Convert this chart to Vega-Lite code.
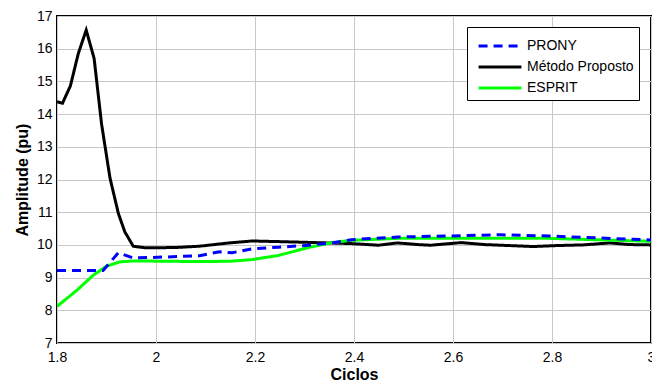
{
  "$schema": "https://vega.github.io/schema/vega-lite/v6.json",
  "width": 594,
  "height": 327,
  "autosize": {"type": "none"},
  "padding": {"left": 57, "top": 16, "right": 1, "bottom": 40},
  "background": "white",
  "config": {
    "font": "Liberation Sans",
    "view": {"stroke": "black", "strokeWidth": 2},
    "axis": {
      "labelFont": "Liberation Sans",
      "labelFontSize": 14,
      "labelColor": "black",
      "titleFont": "Liberation Sans",
      "titleFontSize": 16,
      "titleFontWeight": "bold",
      "titleColor": "black",
      "domain": false,
      "tickColor": "black",
      "tickWidth": 1
    }
  },
  "datasets": {
    "main": [
      {"series": "Método Proposto", "x": 1.8, "y": 14.38},
      {"series": "Método Proposto", "x": 1.811, "y": 14.33},
      {"series": "Método Proposto", "x": 1.827, "y": 14.86},
      {"series": "Método Proposto", "x": 1.843, "y": 15.85},
      {"series": "Método Proposto", "x": 1.859, "y": 16.57},
      {"series": "Método Proposto", "x": 1.875, "y": 15.7},
      {"series": "Método Proposto", "x": 1.89, "y": 13.7},
      {"series": "Método Proposto", "x": 1.907, "y": 12.05},
      {"series": "Método Proposto", "x": 1.924, "y": 10.96},
      {"series": "Método Proposto", "x": 1.937, "y": 10.4},
      {"series": "Método Proposto", "x": 1.954, "y": 9.96},
      {"series": "Método Proposto", "x": 1.98, "y": 9.91},
      {"series": "Método Proposto", "x": 2.04, "y": 9.92},
      {"series": "Método Proposto", "x": 2.088, "y": 9.96},
      {"series": "Método Proposto", "x": 2.141, "y": 10.05},
      {"series": "Método Proposto", "x": 2.194, "y": 10.12},
      {"series": "Método Proposto", "x": 2.25, "y": 10.1},
      {"series": "Método Proposto", "x": 2.3, "y": 10.08},
      {"series": "Método Proposto", "x": 2.395, "y": 10.04},
      {"series": "Método Proposto", "x": 2.449, "y": 9.99},
      {"series": "Método Proposto", "x": 2.488, "y": 10.06},
      {"series": "Método Proposto", "x": 2.529, "y": 10.01},
      {"series": "Método Proposto", "x": 2.555, "y": 9.99},
      {"series": "Método Proposto", "x": 2.616, "y": 10.07},
      {"series": "Método Proposto", "x": 2.663, "y": 10.01},
      {"series": "Método Proposto", "x": 2.763, "y": 9.95},
      {"series": "Método Proposto", "x": 2.81, "y": 9.98},
      {"series": "Método Proposto", "x": 2.863, "y": 10.0},
      {"series": "Método Proposto", "x": 2.917, "y": 10.06},
      {"series": "Método Proposto", "x": 2.957, "y": 10.01},
      {"series": "Método Proposto", "x": 3.0, "y": 10.0},
      {"series": "ESPRIT", "x": 1.8, "y": 8.12},
      {"series": "ESPRIT", "x": 1.84, "y": 8.61},
      {"series": "ESPRIT", "x": 1.873, "y": 9.07},
      {"series": "ESPRIT", "x": 1.9, "y": 9.35},
      {"series": "ESPRIT", "x": 1.927, "y": 9.48},
      {"series": "ESPRIT", "x": 1.954, "y": 9.51},
      {"series": "ESPRIT", "x": 2.088, "y": 9.49},
      {"series": "ESPRIT", "x": 2.15, "y": 9.5},
      {"series": "ESPRIT", "x": 2.194, "y": 9.55},
      {"series": "ESPRIT", "x": 2.248, "y": 9.68},
      {"series": "ESPRIT", "x": 2.308, "y": 9.92},
      {"series": "ESPRIT", "x": 2.355, "y": 10.07},
      {"series": "ESPRIT", "x": 2.395, "y": 10.14},
      {"series": "ESPRIT", "x": 2.489, "y": 10.2},
      {"series": "ESPRIT", "x": 2.796, "y": 10.2},
      {"series": "ESPRIT", "x": 2.863, "y": 10.17},
      {"series": "ESPRIT", "x": 3.0, "y": 10.11},
      {"series": "PRONY", "x": 1.8, "y": 9.22},
      {"series": "PRONY", "x": 1.893, "y": 9.22},
      {"series": "PRONY", "x": 1.924, "y": 9.76},
      {"series": "PRONY", "x": 1.954, "y": 9.6},
      {"series": "PRONY", "x": 2.02, "y": 9.63},
      {"series": "PRONY", "x": 2.088, "y": 9.67},
      {"series": "PRONY", "x": 2.128, "y": 9.79},
      {"series": "PRONY", "x": 2.154, "y": 9.76},
      {"series": "PRONY", "x": 2.194, "y": 9.88},
      {"series": "PRONY", "x": 2.248, "y": 9.93},
      {"series": "PRONY", "x": 2.308, "y": 9.99},
      {"series": "PRONY", "x": 2.355, "y": 10.06},
      {"series": "PRONY", "x": 2.395, "y": 10.16},
      {"series": "PRONY", "x": 2.489, "y": 10.24},
      {"series": "PRONY", "x": 2.583, "y": 10.27},
      {"series": "PRONY", "x": 2.696, "y": 10.31},
      {"series": "PRONY", "x": 2.796, "y": 10.27},
      {"series": "PRONY", "x": 2.863, "y": 10.23},
      {"series": "PRONY", "x": 2.963, "y": 10.17},
      {"series": "PRONY", "x": 3.0, "y": 10.15}
    ]
  },
  "data": {"name": "main"},
  "mark": {"type": "line", "strokeWidth": 3, "clip": true},
  "encoding": {
    "x": {
      "field": "x", "type": "quantitative",
      "scale": {"domain": [1.8, 3.0], "nice": false, "zero": false},
      "axis": {"title": "Ciclos", "values": [1.8, 2, 2.2, 2.4, 2.6, 2.8, 3], "format": "~g", "labelFlush": false, "tickSize": 0, "labelPadding": 7, "titlePadding": 2, "grid": true, "gridColor": "#c8c8c8", "gridWidth": 1}
    },
    "y": {
      "field": "y", "type": "quantitative",
      "scale": {"domain": [7, 17], "nice": false, "zero": false},
      "axis": {"title": "Amplitude (pu)", "values": [7, 8, 9, 10, 11, 12, 13, 14, 15, 16, 17], "labelFlush": false, "tickSize": 0, "labelPadding": 5, "titlePadding": 6, "grid": true, "gridColor": "#c8c8c8", "gridWidth": 1}
    },
    "color": {
      "field": "series", "type": "nominal",
      "scale": {"domain": ["PRONY", "Método Proposto", "ESPRIT"], "range": ["#0000ff", "#000000", "#00ff00"]},
      "legend": {
        "title": null,
        "orient": "none",
        "legendX": 410,
        "legendY": 11,
        "fillColor": "white",
        "strokeColor": "black",
        "padding": 5,
        "symbolOffset": 14,
        "symbolType": "M-1.75,0L1.75,0",
        "symbolSize": 600,
        "symbolStrokeWidth": 3,
        "symbolFillColor": "transparent",
        "labelFontSize": 14,
        "labelColor": "black",
        "labelFont": "Liberation Sans",
        "rowPadding": 0,
        "labelOffset": 13
      }
    },
    "strokeDash": {
      "field": "series", "type": "nominal",
      "scale": {"domain": ["PRONY", "Método Proposto", "ESPRIT"], "range": [[9, 6], [1, 0], [1, 0]]},
      "legend": null
    },
    "order": {"field": "x", "type": "quantitative"}
  }
}
